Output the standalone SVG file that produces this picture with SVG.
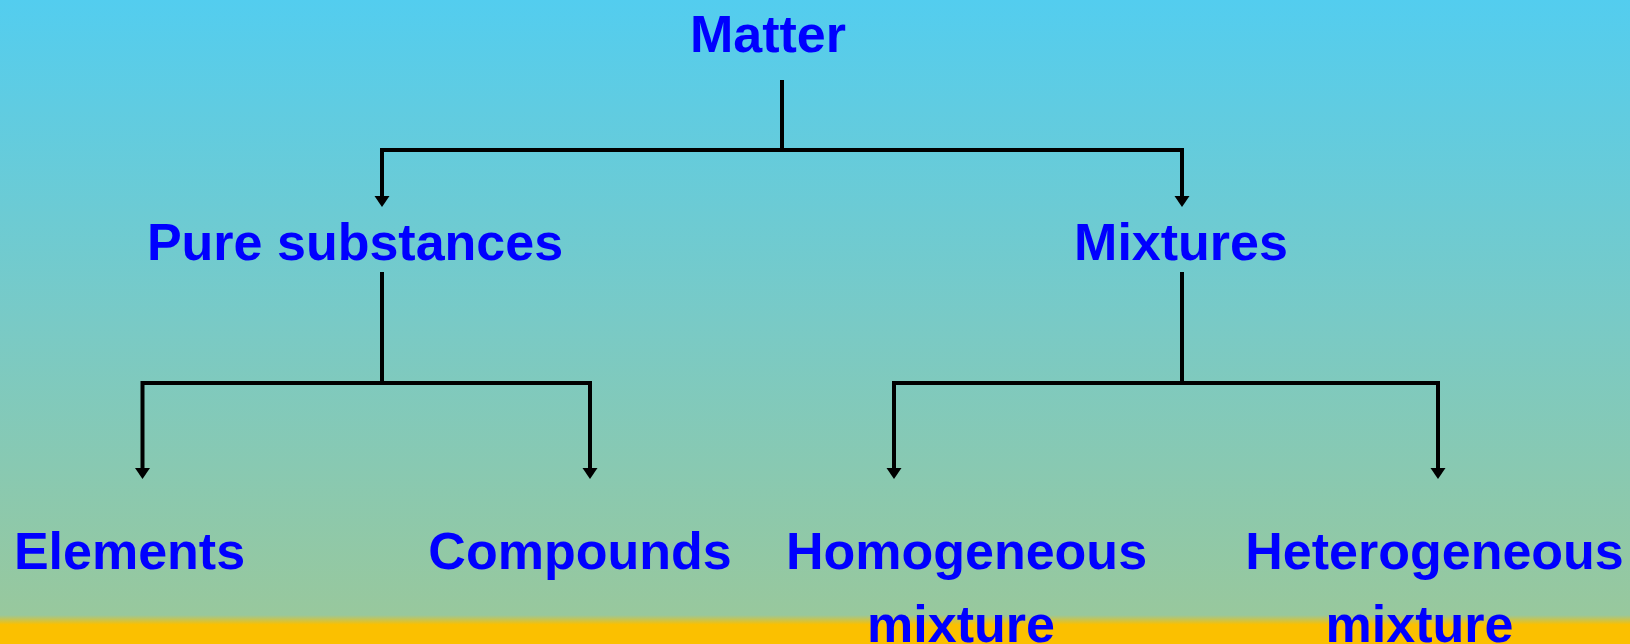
<svg xmlns="http://www.w3.org/2000/svg" width="1630" height="644" viewBox="0 0 1630 644">
  <defs>
    <linearGradient id="bg" x1="0" y1="0" x2="0" y2="644" gradientUnits="userSpaceOnUse">
      <stop offset="0" stop-color="#53CDEF"/>
      <stop offset="0.5" stop-color="#79CAC6"/>
      <stop offset="0.955" stop-color="#98C89D"/>
      <stop offset="0.97" stop-color="#FBC000"/>
      <stop offset="1" stop-color="#FBC000"/>
    </linearGradient>
    <marker id="arr" markerUnits="userSpaceOnUse" markerWidth="16" markerHeight="12" refX="7.5" refY="11" orient="auto-start-reverse" viewBox="0 0 15 11">
      <path d="M0,0 L15,0 L7.5,11 Z" fill="#000"/>
    </marker>
    <style>
      .lbl { font-family: "Liberation Sans", Arial, sans-serif; font-weight: bold; font-size: 52px; fill: #0000FF; text-anchor: middle; }
      .ln { fill: none; stroke: #000; stroke-width: 4; }
    </style>
  </defs>
  <rect x="0" y="0" width="1630" height="644" fill="url(#bg)"/>

  <g id="connectors">
    <path class="ln" d="M782,80 V150"/>
    <path class="ln" d="M382,150 H1182"/>
    <path class="ln" d="M382,148 V196"/>
    <path class="ln" d="M1182,148 V196"/>
    <path d="M374.5,196 H389.5 L382,207 Z"/>
    <path d="M1174.5,196 H1189.5 L1182,207 Z"/>

    <path class="ln" d="M382,272 V383"/>
    <path class="ln" d="M142.5,383 H590"/>
    <path class="ln" d="M142.5,381 V468"/>
    <path class="ln" d="M590,381 V468"/>
    <path d="M135,468 H150 L142.5,479 Z"/>
    <path d="M582.5,468 H597.5 L590,479 Z"/>

    <path class="ln" d="M1182,272 V383"/>
    <path class="ln" d="M894,383 H1438"/>
    <path class="ln" d="M894,381 V468"/>
    <path class="ln" d="M1438,381 V468"/>
    <path d="M886.5,468 H901.5 L894,479 Z"/>
    <path d="M1430.5,468 H1445.5 L1438,479 Z"/>
  </g>

  <g id="matter"><text class="lbl" x="768" y="52">Matter</text></g>
  <g id="pure"><text class="lbl" x="355" y="260">Pure substances</text></g>
  <g id="mixtures"><text class="lbl" x="1181" y="260">Mixtures</text></g>
  <g id="elements"><text class="lbl" x="129.5" y="569">Elements</text></g>
  <g id="compounds"><text class="lbl" x="580" y="569">Compounds</text></g>
  <g id="homogeneous">
    <text class="lbl" x="966.5" y="569">Homogeneous</text>
    <text class="lbl" x="961" y="642">mixture</text>
  </g>
  <g id="heterogeneous">
    <text class="lbl" x="1434.5" y="569">Heterogeneous</text>
    <text class="lbl" x="1419.5" y="642">mixture</text>
  </g>
</svg>
